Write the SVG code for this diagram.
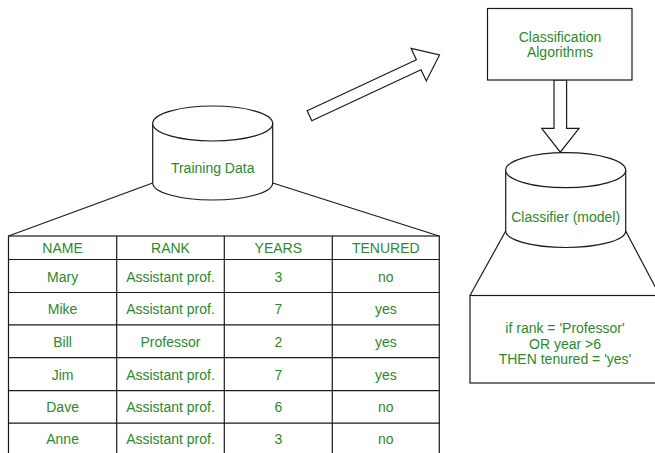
<svg xmlns="http://www.w3.org/2000/svg" width="655" height="453" viewBox="0 0 655 453">
  <style>
    .shape { fill: #ffffff; stroke: #1a1a1a; stroke-width: 1.2; }
    .line { fill: none; stroke: #1a1a1a; stroke-width: 1.2; }
    .label { font-family: "Liberation Sans", Arial, sans-serif; font-size: 14px; fill: #2b8a2b; text-anchor: middle; }
  </style>
  <rect width="655" height="453" fill="#ffffff"/>

  <!-- connectors: projection lines and block arrows -->
  <g id="connectors">
    <line class="line" x1="152.7" y1="183" x2="8.5" y2="236"/>
    <line class="line" x1="272.7" y1="183" x2="439" y2="236"/>
    <line class="line" x1="505.7" y1="231" x2="470" y2="295.5"/>
    <line class="line" x1="625.7" y1="231" x2="660" y2="296"/>
    <polygon class="shape" points="307.2,110.7 416.4,59.7 411.1,48.4 439.5,55 426.3,81 421,69.7 311.8,120.7"/>
    <polygon class="shape" points="554,80 566.6,80 566.6,128.3 579,128.3 560.3,152.2 541.7,128.3 554,128.3"/>
  </g>

  <!-- Training Data store -->
  <g id="training-data">
    <path class="shape" d="M152.7,123.5 V183 A60,17 0 0 0 272.7,183 V123.5"/>
    <ellipse class="shape" cx="212.7" cy="123.5" rx="60" ry="17.5"/>
    <text class="label" x="212.7" y="173.3">Training Data</text>
  </g>

  <!-- Classification Algorithms box -->
  <g id="classification-algorithms">
    <rect class="shape" x="487.5" y="8.5" width="144.5" height="71.5"/>
    <text class="label" x="560" y="41.7">Classification</text>
    <text class="label" x="560" y="57.3">Algorithms</text>
  </g>

  <!-- Classifier (model) store -->
  <g id="classifier">
    <path class="shape" d="M505.7,170.2 V231 A60,16.5 0 0 0 625.7,231 V170.2"/>
    <ellipse class="shape" cx="565.7" cy="170.2" rx="60" ry="17.5"/>
    <text class="label" x="565.7" y="221.5">Classifier (model)</text>
  </g>

  <!-- Rule box -->
  <g id="rule">
    <rect class="shape" x="470" y="295.5" width="195" height="87.5"/>
    <text class="label" x="565" y="333.3">if rank = 'Professor'</text>
    <text class="label" x="565" y="348.9">OR year &gt;6</text>
    <text class="label" x="565" y="364.4">THEN tenured = 'yes'</text>
  </g>

  <!-- Training table -->
  <g id="table">
    <rect class="shape" x="8.5" y="236" width="430.8" height="222"/>
    <g class="line">
      <line x1="116.7" y1="236" x2="116.7" y2="458"/>
      <line x1="224.3" y1="236" x2="224.3" y2="458"/>
      <line x1="332.3" y1="236" x2="332.3" y2="458"/>
      <line x1="8.5" y1="259.5" x2="439.3" y2="259.5"/>
      <line x1="8.5" y1="292.5" x2="439.3" y2="292.5"/>
      <line x1="8.5" y1="324.8" x2="439.3" y2="324.8"/>
      <line x1="8.5" y1="357.6" x2="439.3" y2="357.6"/>
      <line x1="8.5" y1="390.6" x2="439.3" y2="390.6"/>
      <line x1="8.5" y1="423.2" x2="439.3" y2="423.2"/>
    </g>
    <g class="label">
      <text x="62.6" y="252.5">NAME</text>
      <text x="170.5" y="252.5">RANK</text>
      <text x="278.3" y="252.5">YEARS</text>
      <text x="385.8" y="252.5">TENURED</text>

      <text x="62.6" y="281.7">Mary</text>
      <text x="170.5" y="281.7">Assistant prof.</text>
      <text x="278.3" y="281.7">3</text>
      <text x="385.8" y="281.7">no</text>

      <text x="62.6" y="314.3">Mike</text>
      <text x="170.5" y="314.3">Assistant prof.</text>
      <text x="278.3" y="314.3">7</text>
      <text x="385.8" y="314.3">yes</text>

      <text x="62.6" y="346.7">Bill</text>
      <text x="170.5" y="346.7">Professor</text>
      <text x="278.3" y="346.7">2</text>
      <text x="385.8" y="346.7">yes</text>

      <text x="62.6" y="380">Jim</text>
      <text x="170.5" y="380">Assistant prof.</text>
      <text x="278.3" y="380">7</text>
      <text x="385.8" y="380">yes</text>

      <text x="62.6" y="411.7">Dave</text>
      <text x="170.5" y="411.7">Assistant prof.</text>
      <text x="278.3" y="411.7">6</text>
      <text x="385.8" y="411.7">no</text>

      <text x="62.6" y="444.3">Anne</text>
      <text x="170.5" y="444.3">Assistant prof.</text>
      <text x="278.3" y="444.3">3</text>
      <text x="385.8" y="444.3">no</text>
    </g>
  </g>
</svg>
